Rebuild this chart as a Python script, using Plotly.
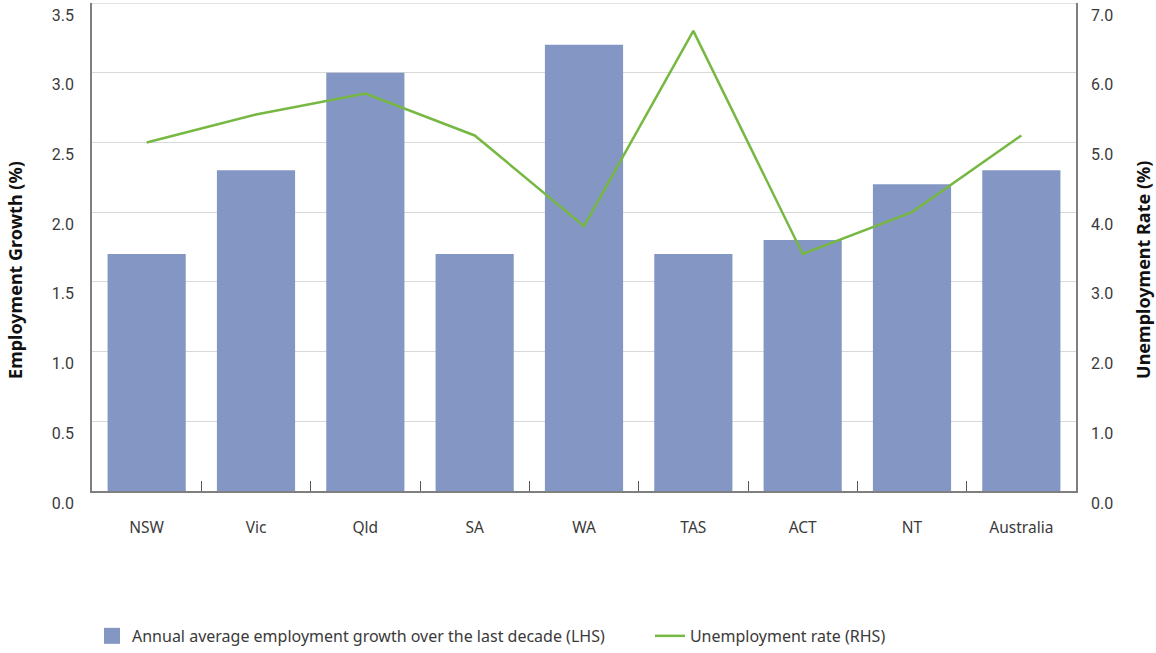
import plotly.graph_objects as go

categories = ["NSW", "Vic", "Qld", "SA", "WA", "TAS", "ACT", "NT", "Australia"]
employment_growth = [1.7, 2.3, 3.0, 1.7, 3.2, 1.7, 1.8, 2.2, 2.3]
unemployment_rate = [5.0, 5.4, 5.7, 5.1, 3.8, 6.6, 3.4, 4.0, 5.1]
left_ticks = [0, 0.5, 1.0, 1.5, 2.0, 2.5, 3.0, 3.5]
right_ticks = [0, 1, 2, 3, 4, 5, 6, 7]

BAR = "#8497c4"
LINE = "#77b843"
AXIS = "#7f7f7f"
GRID = "#d9d9d9"
TXT = "#3a3a3a"
LEG_FONT = dict(family="Liberation Sans Narrow, Noto Sans, sans-serif", size=16, color=TXT)
TITLE_FONT = dict(family="Noto Sans, sans-serif", size=18, color="#111111")

fig = go.Figure()
fig.add_trace(go.Bar(
    x=categories, y=employment_growth, marker=dict(color=BAR, line=dict(width=0)),
    name="Annual average employment growth over the last decade (LHS)",
    showlegend=False, yaxis="y",
))
# legend entry with a larger square swatch
fig.add_trace(go.Scatter(
    x=[None], y=[None], mode="markers",
    marker=dict(symbol="square", size=26, color=BAR),
    name="Annual average employment growth over the last decade (LHS)",
    showlegend=True, yaxis="y", legend="legend",
))
fig.add_trace(go.Scatter(
    x=categories, y=unemployment_rate, mode="lines",
    line=dict(color=LINE, width=2.5),
    name="Unemployment rate (RHS)", yaxis="y2", legend="legend2",
))

# top gridline at the last left tick (edge gridlines are clipped by plotly)
fig.add_shape(type="line", xref="paper", yref="y", x0=0, x1=1,
              y0=left_ticks[-1], y1=left_ticks[-1], line=dict(color=GRID, width=1.5), layer="below")

# axis titles
fig.add_annotation(text="<b>Employment Growth (%)</b>", xref="paper", yref="paper",
                   x=0, y=0.453, xshift=-77, xanchor="center", yanchor="middle",
                   textangle=-90, showarrow=False, font=TITLE_FONT)
fig.add_annotation(text="<b>Unemployment Rate (%)</b>", xref="paper", yref="paper",
                   x=1, y=0.453, xshift=67, xanchor="center", yanchor="middle",
                   textangle=-90, showarrow=False, font=TITLE_FONT)

fig.update_layout(
    width=1156, height=653,
    margin=dict(l=92, r=80, t=3, b=162, autoexpand=False),
    plot_bgcolor="white", paper_bgcolor="white",
    bargap=0.285,
    showlegend=True,
    legend=dict(
        orientation="h", x=0.0, xanchor="left", y=-0.297, yanchor="middle",
        font=LEG_FONT, itemsizing="trace", bgcolor="rgba(0,0,0,0)",
    ),
    legend2=dict(
        orientation="h", x=0.567, xanchor="left", y=-0.297, yanchor="middle",
        font=LEG_FONT, bgcolor="rgba(0,0,0,0)",
    ),
    xaxis=dict(
        type="category", showline=True, linecolor=AXIS, linewidth=1.5,
        ticks="inside", tickson="boundaries", ticklen=10, tickcolor="#555555", tickwidth=1.2,
        tickfont=dict(family="Noto Sans, sans-serif", size=15.5, color=TXT),
        showgrid=False, ticklabelstandoff=22, automargin=False,
    ),
    yaxis=dict(
        range=[0, 3.5], tickvals=left_ticks, tickformat=".1f",
        showgrid=True, gridcolor=GRID, gridwidth=1.2,
        showline=True, linecolor=AXIS, linewidth=1.5, zeroline=False,
        tickfont=dict(family="Roboto, sans-serif", size=16, color=TXT),
        ticklabelstandoff=13, ticklabelshift=12, ticklabeloverflow="allow", automargin=False,
    ),
    yaxis2=dict(
        range=[0, 7], tickvals=right_ticks, tickformat=".1f", overlaying="y", side="right",
        showgrid=False, showline=True, linecolor=AXIS, linewidth=1.5, zeroline=False,
        tickfont=dict(family="Roboto, sans-serif", size=16, color=TXT),
        ticklabelstandoff=10, ticklabelshift=12, ticklabeloverflow="allow", automargin=False,
    ),
)

fig.write_html("out.html", config={"displayModeBar": False},
               post_script="document.body.style.margin='0';")
